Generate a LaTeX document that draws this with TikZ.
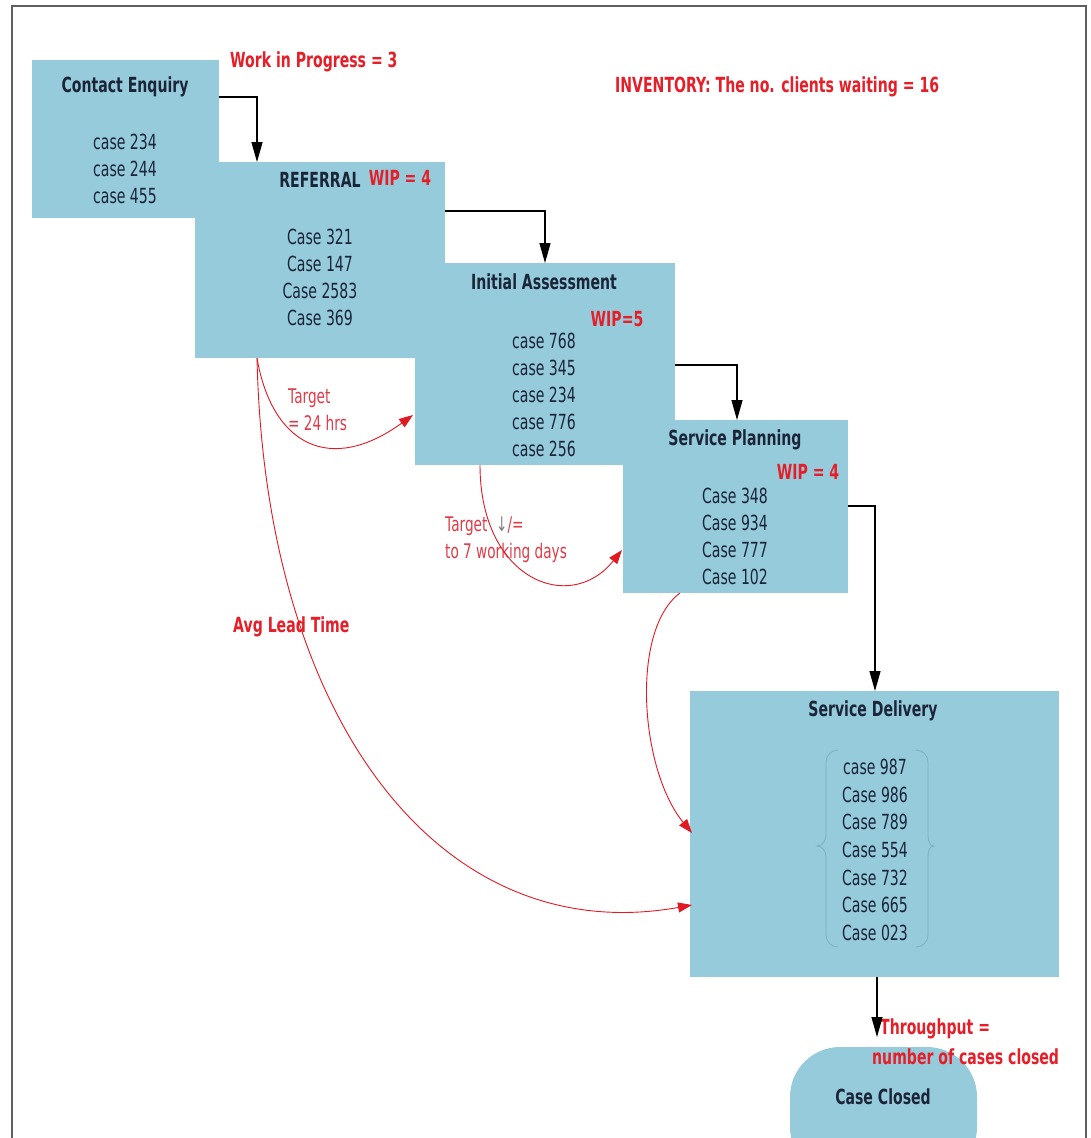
\documentclass[tikz,border=0pt]{standalone}
\usepackage{fontspec}
\setmainfont{DejaVu Sans}
\usepackage{graphicx}
\usetikzlibrary{arrows.meta,calc}
\definecolor{boxblue}{RGB}{150,203,220}
\definecolor{ink}{RGB}{26,38,56}
\definecolor{lred}{RGB}{230,30,40}
\definecolor{cred}{RGB}{225,25,35}
\definecolor{tred}{RGB}{222,60,72}
\definecolor{frameclr}{RGB}{95,95,95}
\definecolor{braceclr}{RGB}{125,175,192}
\newcommand\myvs[1]{\scalebox{0.88}[1.3]{#1}}
\begin{document}
\begin{tikzpicture}[x=1pt,y=-1pt,
 box/.style={fill=boxblue, draw=none, inner sep=0pt, outer sep=0pt, anchor=north west},
 ttl/.style={font=\bfseries\fontsize{16}{20}\selectfont, text=ink, inner sep=0pt},
 caselist/.style={font=\fontsize{16}{27}\selectfont, text=ink, align=center, inner sep=0pt},
 lab/.style={font=\bfseries\fontsize{16}{20}\selectfont, text=lred, inner sep=0pt},
 rednote/.style={font=\fontsize{15.5}{27}\selectfont, text=tred, align=left, inner sep=0pt, anchor=west},
 flow/.style={draw=black, line width=1.3pt, -{Triangle[length=20pt,width=11pt]}},
 redarc/.style={draw=cred, line width=0.9pt, -{Triangle[length=14pt,width=10pt]}},
]
\useasboundingbox (0,0) rectangle (1090,1138);
\clip (0,0) rectangle (1090,1138);
\fill[white] (0,0) rectangle (1090,1138);

% frame
\draw[frameclr, line width=2pt] (12,1145) -- (12,6) -- (1086,6) -- (1086,1145);

% boxes
\node[box, minimum width=187pt, minimum height=158pt] (ce) at (32,60) {};
\node[box, minimum width=250pt, minimum height=196pt] (ref) at (195,162) {};
\node[box, minimum width=260pt, minimum height=202pt] (ia) at (415,263) {};
\node[box, minimum width=225pt, minimum height=173pt] (sp) at (623,420) {};
\node[box, minimum width=369pt, minimum height=286pt] (sd) at (690,691) {};
\node[box, minimum width=187pt, minimum height=130pt, rounded corners=50pt] (cc) at (790,1047) {};

% titles
\node[ttl] (tce) at (125,87) {\myvs{Contact Enquiry}};
\node[ttl] (tref) at (320,180) {\myvs{REFERRAL}};
\node[ttl] (tia) at (544,282) {\myvs{Initial Assessment}};
\node[ttl] (tsp) at (735,440) {\myvs{Service Planning}};
\node[ttl] (tsd) at (873,711) {\myvs{Service Delivery}};
\node[ttl] (tcc) at (883,1097) {\myvs{Case Closed}};

% case lists
\node[caselist] (lce) at (125,169) {\myvs{case 234}\\\myvs{case 244}\\\myvs{case 455}};
\node[caselist] (lref) at (320,277.5) {\myvs{Case 321}\\\myvs{Case 147}\\\myvs{Case 2583}\\\myvs{Case 369}};
\node[caselist] (lia) at (544,394.5) {\myvs{case 768}\\\myvs{case 345}\\\myvs{case 234}\\\myvs{case 776}\\\myvs{case 256}};
\node[caselist] (lsp) at (735,536) {\myvs{Case 348}\\\myvs{Case 934}\\\myvs{Case 777}\\\myvs{Case 102}};
\node[caselist, font=\fontsize{16}{27.7}\selectfont] (lsd) at (875,850) {\myvs{case 987}\\\myvs{Case 986}\\\myvs{Case 789}\\\myvs{Case 554}\\\myvs{Case 732}\\\myvs{Case 665}\\\myvs{Case 023}};

% faint bracket pair around the Service Delivery list
\draw[braceclr, line width=0.8pt] (838,750) to[out=180,in=90] (826,762) -- (826,835) to[out=-90,in=0] (817,846) to[out=0,in=90] (826,857) -- (826,935) to[out=-90,in=180] (838,947);
\draw[braceclr, line width=0.8pt] (916,750) to[out=0,in=90] (928,762) -- (928,835) to[out=-90,in=180] (934,846) to[out=180,in=90] (928,857) -- (928,935) to[out=-90,in=0] (916,947);

% red labels
\node[lab, anchor=west] (wip0) at (230,62) {\myvs{Work in Progress = 3}};
\node[lab, anchor=west] (inv) at (615,87) {\myvs{INVENTORY: The no. clients waiting = 16}};
\node[lab] (wip1) at (400,178) {\myvs{WIP = 4}};
\node[lab] (wip2) at (617,319) {\myvs{WIP=5}};
\node[lab] (wip3) at (808,472) {\myvs{WIP = 4}};
\node[lab, anchor=west] (alt) at (233,627) {\myvs{Avg Lead Time}};
\node[lab, anchor=west, align=left, font=\bfseries\fontsize{16}{30}\selectfont] (thr) at (872,1042) {\hspace*{8pt}\myvs{Throughput =}\\\myvs{number of cases closed}};
\node[rednote] (t24) at (288,410) {\myvs{Target}\\\myvs{= 24 hrs}};
\node[rednote] (t7) at (445,540) {\myvs{Target\ \ {\color{gray}↓}/=}\\\myvs{to 7 working days}};

% black flow connectors
\draw[flow] ($(ce.north east)+(0,37)$) -| ($(ref.north west)+(62,0)$);
\draw[flow] ($(ref.north east)+(0,49)$) -| ($(ia.north west)+(130,0)$);
\draw[flow] ($(ia.north east)+(0,102)$) -| ($(sp.north west)+(114,0)$);
\draw[flow, line width=1.1pt] ($(sp.north east)+(0,86)$) -| ($(sd.north west)+(185,0)$);
\draw[flow, line width=1.1pt] ($(sd.south west)+(187,0)$) -- ($(cc.north west)+(87,-10)$);

% red curved arrows
\draw[redarc] ($(ref.south west)+(62,0)$) .. controls (272,445) and (330,475) .. ($(ia.north west)+(-2,152)$);
\draw[redarc] ($(ia.south west)+(65,0)$) .. controls (480,580) and (570,615) .. ($(sp.north west)+(-1,130)$);
\draw[redarc] ($(sp.south west)+(57,0)$) .. controls (630,630) and (640,770) .. ($(sd.north west)+(2,142)$);
\draw[redarc] ($(ref.south west)+(62,0)$) .. controls (265,720) and (440,950) .. ($(sd.north west)+(2,214)$);
\end{tikzpicture}
\end{document}
